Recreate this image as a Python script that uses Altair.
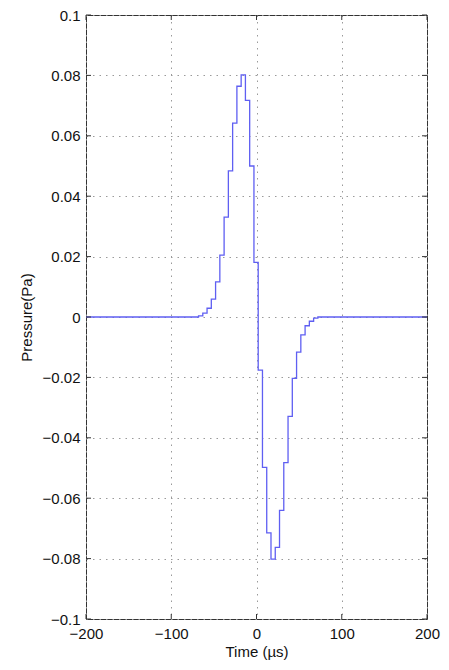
import altair as alt
import pandas as pd

# Step edges (µs) and pressure held from each edge to the next (Pa)
time_us = [-200, -68, -63, -58, -53, -48, -43, -38, -33, -28, -23, -18, -13, -8, -3,
           2, 7, 12, 17, 22, 27, 32, 37, 42, 47, 52, 57, 62, 67, 72, 200]
pressure = [0, 0.0004, 0.0013, 0.0029, 0.0059, 0.0116, 0.0205, 0.0331, 0.0484, 0.0642,
            0.0764, 0.0802, 0.0717, 0.0500, 0.0181,
            -0.0176, -0.0498, -0.0715, -0.0802, -0.0763, -0.0640, -0.0482, -0.0329,
            -0.0203, -0.0116, -0.0059, -0.0029, -0.0014, -0.0004, 0, 0]

x_ticks = [-200, -100, 0, 100, 200]
y_ticks = [-0.1, -0.08, -0.06, -0.04, -0.02, 0, 0.02, 0.04, 0.06, 0.08, 0.1]

W, H = 341, 604
FONT = "Liberation Sans"
TICK = 5

df = pd.DataFrame({"t": time_us, "p": pressure})
xt = pd.DataFrame({"t": x_ticks})
yt = pd.DataFrame({"p": y_ticks})

xscale = alt.Scale(domain=[-200, 200], nice=False)
yscale = alt.Scale(domain=[-0.1, 0.1], nice=False, zero=False)

axis_style = dict(
    grid=True, ticks=False, domain=False,
    labelFont=FONT, labelFontSize=15, labelColor="#111111",
    titleFont=FONT, titleFontSize=15, titleFontWeight="normal", titleColor="#111111",
    gridColor="#9a9a9a", gridDash=[1.5, 5], gridWidth=1,
)

line = alt.Chart(df).mark_line(interpolate="step-after", color="#5f5ff2", strokeWidth=1.3).encode(
    x=alt.X("t:Q", scale=xscale, title="Time (µs)",
            axis=alt.Axis(values=x_ticks, labelPadding=7, titlePadding=3,
                          labelFlush=False, **axis_style)),
    y=alt.Y("p:Q", scale=yscale, title="Pressure(Pa)",
            axis=alt.Axis(values=y_ticks, format=".2~f", labelPadding=6,
                          titlePadding=8, **axis_style)),
)

tick_style = dict(color="#333333", strokeWidth=1)
bottom_ticks = alt.Chart(xt).mark_rule(**tick_style).encode(
    x="t:Q", y=alt.value(H), y2=alt.value(H - TICK))
top_ticks = alt.Chart(xt).mark_rule(**tick_style).encode(
    x="t:Q", y=alt.value(0), y2=alt.value(TICK))
left_ticks = alt.Chart(yt).mark_rule(**tick_style).encode(
    y="p:Q", x=alt.value(0), x2=alt.value(TICK))
right_ticks = alt.Chart(yt).mark_rule(**tick_style).encode(
    y="p:Q", x=alt.value(W), x2=alt.value(W - TICK))

chart = alt.layer(line, bottom_ticks, top_ticks, left_ticks, right_ticks).properties(
    width=W, height=H,
    background="white",
    autosize=alt.AutoSizeParams(type="none"),
    padding={"left": 78, "top": 7, "right": 14, "bottom": 42},
).configure_view(
    stroke="#333333", strokeWidth=1
)

chart.save("out.html", embed_options={"renderer": "svg", "actions": False})
